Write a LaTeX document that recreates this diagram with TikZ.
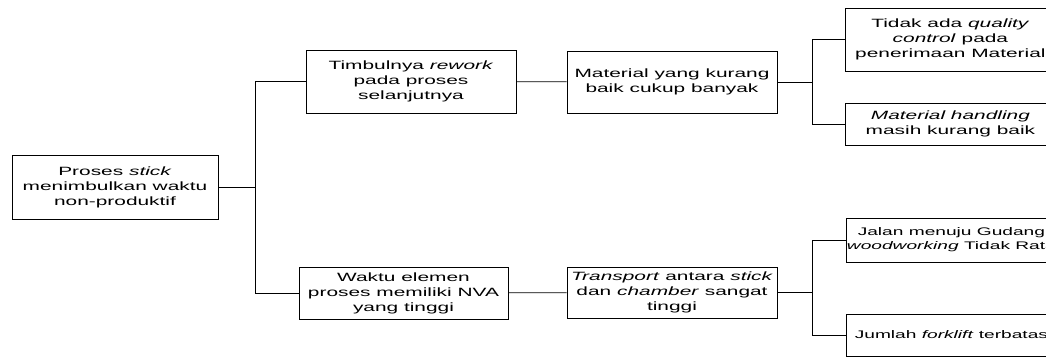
\documentclass[tikz,border=0pt]{standalone}
\usepackage{fontspec}
\setmainfont[FakeStretch=1.74]{Liberation Sans}
\usepackage{tikz}
\usetikzlibrary{positioning}

\begin{document}
\begin{tikzpicture}[
    x=1pt, y=-1pt,
    every node/.style={font=\fontsize{12}{15}\selectfont, align=center, inner sep=0pt},
    box/.style={draw, line width=0.8pt, minimum width=210pt},
    leaf/.style={box, anchor=west},
    smallleaf/.style={leaf, font=\fontsize{11}{14}\selectfont},
    link/.style={draw, line width=0.8pt}
]
\useasboundingbox (0,0) rectangle (1046,356);
\clip (0,0) rectangle (1046,356);
\node[box, minimum width=206pt, minimum height=64pt] (root) at (115,187)
    {Proses \textit{stick}\\menimbulkan waktu\\non-produktif};
\node[box, minimum height=63pt] (rework) at (411,81.5)
    {Timbulnya \textit{rework}\\pada proses\\selanjutnya};
\node[box, minimum height=62pt] (material) at (672,82)
    {Material yang kurang\\baik cukup banyak};
\node[leaf, minimum height=63pt] (qc) at (845,39.5)
    {Tidak ada \textit{quality}\\\textit{control} pada\\penerimaan Material};
\node[leaf, minimum height=42pt] (handling) at (845,124)
    {\textit{Material handling}\\masih kurang baik};
\node[box, minimum width=209pt, minimum height=52pt] (nva) at (403.5,293)
    {Waktu elemen\\proses memiliki NVA\\yang tinggi};
\node[box, minimum height=51pt] (transport) at (672,292.5)
    {\textit{Transport} antara \textit{stick}\\dan \textit{chamber} sangat\\tinggi};
\node[smallleaf, minimum height=44pt] (jalan) at (846,240)
    {Jalan menuju Gudang\\\textit{woodworking} Tidak Rata};
\node[smallleaf, minimum height=42pt] (forklift) at (846,335)
    {Jumlah \textit{forklift} terbatas};

\coordinate (j1) at (255,187);
\coordinate (j2) at (812,82);
\coordinate (j3) at (812,292.5);
\draw[link] (root.east) -- (j1) |- (rework.west);
\draw[link] (j1) |- (nva.west);
\draw[link] (rework) -- (material);
\draw[link] (nva) -- (transport);
\draw[link] (material.east) -- (j2) |- (qc.west);
\draw[link] (j2) |- (handling.west);
\draw[link] (transport.east) -- (j3) |- (jalan.west);
\draw[link] (j3) |- (forklift.west);
\end{tikzpicture}
\end{document}
